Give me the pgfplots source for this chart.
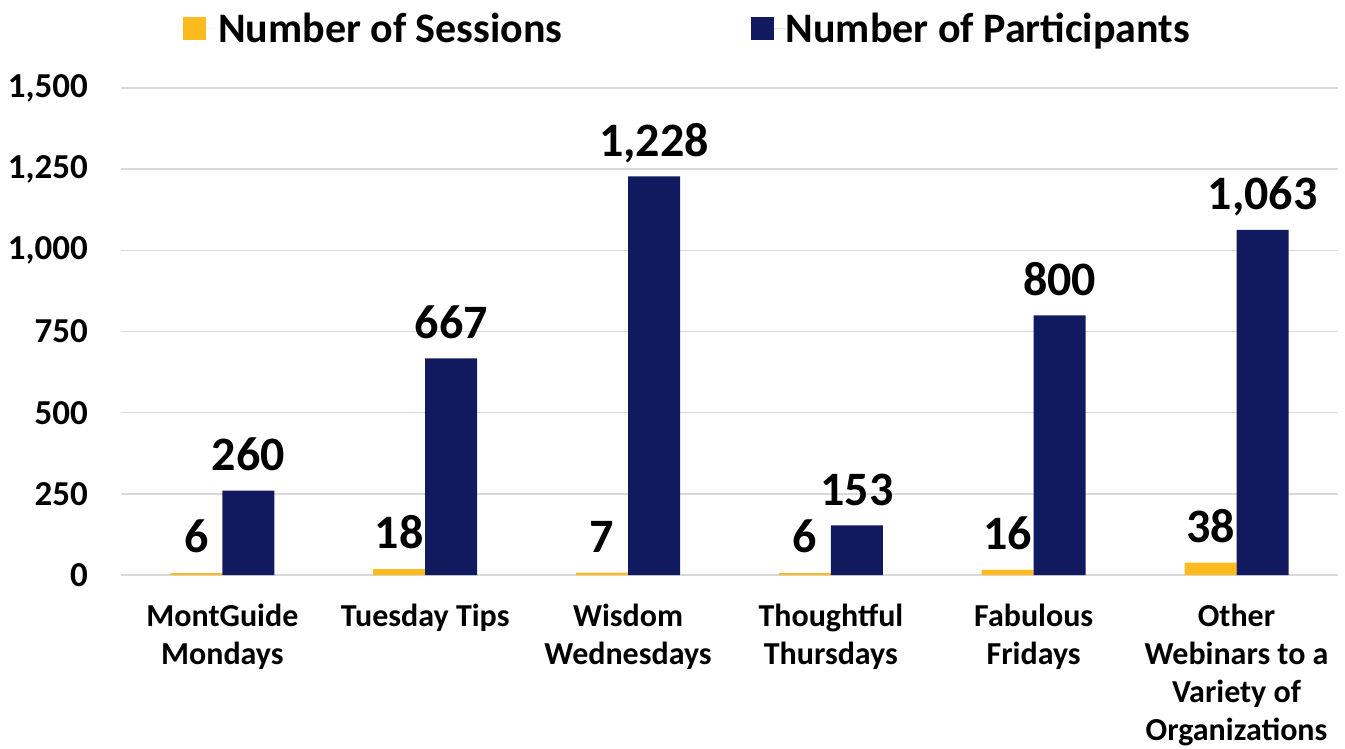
\documentclass[border=0pt]{standalone}
\usepackage{fontspec}
\setmainfont{Carlito}
\usepackage{pgfplots}
\pgfplotsset{compat=1.18}
\definecolor{gold}{HTML}{FDBB20}
\definecolor{navy}{HTML}{111A5E}
\definecolor{gridgray}{HTML}{D9D9D9}
\pgfplotsset{
  sqlegend/.style={legend image code/.code={%
    \path (0pt,0pt) rectangle (35pt,0pt);
    \fill[##1,draw=none] (0pt,-11.5pt) rectangle (23pt,11.5pt);}}
}
\begin{document}
\begin{tikzpicture}
\useasboundingbox (-121pt,-173pt) rectangle (1224pt,575pt);
\begin{axis}[
  at={(0pt,0pt)}, anchor=south west,
  scale only axis, width=1217pt, height=487pt,
  ybar=0pt, bar width=52pt,
  xmin=-0.5, xmax=5.5, ymin=0, ymax=1500,
  ytick={0,250,...,1500},
  xtick={0,...,5},
  xticklabels={{MontGuide\\Mondays},{Tuesday Tips},{Wisdom\\Wednesdays},{Thoughtful\\Thursdays},{Fabulous\\Fridays},{Other\\Webinars to a\\Variety of\\Organizations}},
  axis line style={draw=none},
  ymajorgrids, major grid style={gridgray, line width=1.5pt},
  xtick style={draw=none}, ytick style={draw=none},
  xtick pos=left, ytick pos=left,
  extra x ticks={-0.5,0.5,1.5,2.5,3.5,4.5,5.5},
  extra x tick labels={},
  extra x tick style={major tick length=11pt, tick align=outside, tick style={draw=gridgray, line width=1.5pt}},
  /pgf/number format/1000 sep={,},
  /pgf/number format/assume math mode=true,
  yticklabel style={font=\bfseries\fontsize{35}{40}\selectfont, inner sep=0pt, xshift=-33pt},
  xticklabel style={font=\bfseries\fontsize{32}{38}\selectfont, align=center, inner sep=0pt, yshift=-25pt, anchor=north},
  nodes near coords,
  every node near coord/.append style={font=\bfseries\fontsize{48}{52}\selectfont, inner sep=0pt, text depth=0pt, yshift=20pt, text=black},
  legend columns=2,
  legend style={at={(rel axis cs:0.0509,1.123)}, anchor=west, draw=none, fill=none,
    inner sep=0pt, nodes={inner sep=0pt},
    font=\bfseries\fontsize{42}{48}\selectfont,
    /tikz/every even column/.append style={column sep=188pt}},
  legend cell align=left,
]
\addplot[fill=gold, draw=none, sqlegend] coordinates {(0,6) (1,18) (2,7) (3,6) (4,16) (5,38)};
\addplot[fill=navy, draw=none, sqlegend] coordinates {(0,260) (1,667) (2,1228) (3,153) (4,800) (5,1063)};
\legend{Number of Sessions, Number of Participants}
\end{axis}
\end{tikzpicture}
\end{document}
